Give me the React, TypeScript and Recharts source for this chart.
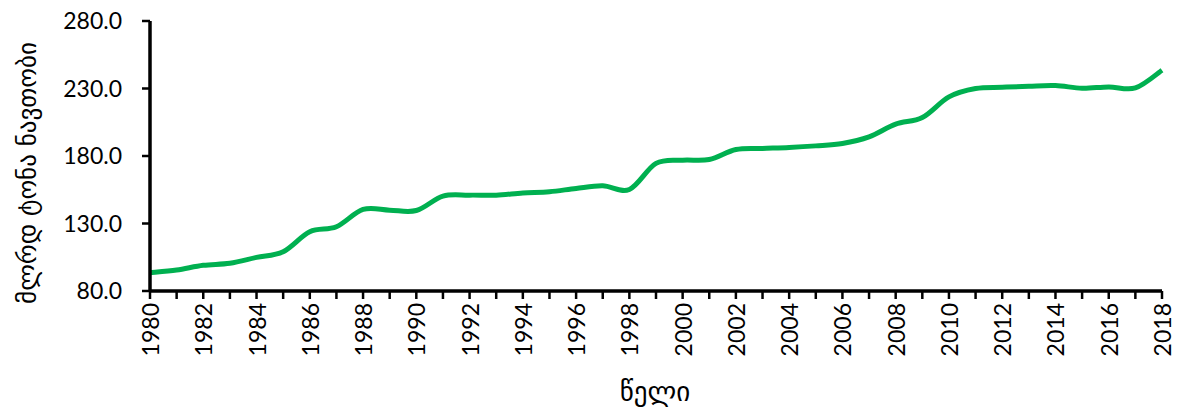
import React from 'react';
import { LineChart, Line, XAxis, YAxis } from 'recharts';

const years = [
  1980, 1981, 1982, 1983, 1984, 1985, 1986, 1987, 1988, 1989,
  1990, 1991, 1992, 1993, 1994, 1995, 1996, 1997, 1998, 1999,
  2000, 2001, 2002, 2003, 2004, 2005, 2006, 2007, 2008, 2009,
  2010, 2011, 2012, 2013, 2014, 2015, 2016, 2017, 2018,
];
const reserves = [
  93.5, 95.5, 99.0, 100.5, 104.9, 109.1, 123.9, 127.6, 140.4, 139.9,
  139.6, 150.3, 151.0, 151.0, 152.6, 153.5, 156.0, 157.9, 155.2, 174.5,
  176.9, 177.4, 184.8, 185.6, 186.3, 187.5, 189.3, 194.2, 203.6, 208.5,
  223.8, 230.0, 230.9, 231.7, 232.2, 230.2, 231.2, 230.4, 243.5,
];
const yTicks = [80, 130, 180, 230, 280];
const yLabel = 'მლრდ ტონა ნავთობი';
const xLabel = 'წელი';

const data = years.map((y, i) => ({ year: y, value: reserves[i] }));

// Excel-like smoothed line (Catmull-Rom style Bezier)
const excelCurve: any = (context: any) => {
  let pts: number[][] = [];
  return {
    areaStart() {},
    areaEnd() {},
    lineStart() {
      pts = [];
    },
    lineEnd() {
      if (!pts.length) return;
      context.moveTo(pts[0][0], pts[0][1]);
      for (let i = 0; i < pts.length - 1; i++) {
        const p0 = pts[i - 1] || pts[i];
        const p1 = pts[i];
        const p2 = pts[i + 1];
        const p3 = pts[i + 2] || p2;
        context.bezierCurveTo(
          p1[0] + (p2[0] - p0[0]) / 6,
          p1[1] + (p2[1] - p0[1]) / 6,
          p2[0] - (p3[0] - p1[0]) / 6,
          p2[1] - (p3[1] - p1[1]) / 6,
          p2[0],
          p2[1]
        );
      }
    },
    point(x: number, y: number) {
      pts.push([+x, +y]);
    },
  };
};

const FONT = 'Lato, "DejaVu Sans", sans-serif';
const GEO = '"DejaVu Sans", "Noto Sans", sans-serif';

const XTick = (props: any) => {
  const { x, y, payload } = props;
  const v = payload.value;
  if (v % 2 !== 0) return null;
  return (
    <text
      x={x}
      y={y}
      transform={`rotate(-90 ${x} ${y})`}
      textAnchor="end"
      dominantBaseline="central"
      fontSize={23}
      fontFamily={FONT}
      fill="#000"
    >
      {String(v)}
    </text>
  );
};

export default function App() {
  return (
    <div style={{ position: 'absolute', left: 0, top: 0, width: 1182, height: 412, background: '#fff' }}>
      <LineChart
        width={1182}
        height={412}
        data={data}
        margin={{ top: 21, right: 20, bottom: 0, left: 0 }}
      >
        <XAxis
          type="number"
          dataKey="year"
          domain={[1980, 2018]}
          ticks={years}
          interval={0}
          height={121}
          axisLine={{ stroke: '#000', strokeWidth: 3.5 }}
          tickLine={{ stroke: '#000', strokeWidth: 2.5 }}
          tickSize={8}
          tickMargin={4}
          tick={<XTick />}
          label={{
            content: () => (
              <text x={655} y={391} textAnchor="middle" dominantBaseline="central" fontSize={27} fontFamily={GEO} fill="#000">
                {xLabel}
              </text>
            ),
          }}
        />
        <YAxis
          type="number"
          domain={[80, 280]}
          ticks={yTicks}
          interval={0}
          width={150}
          axisLine={{ stroke: '#000', strokeWidth: 3.5 }}
          tickLine={{ stroke: '#000', strokeWidth: 2.5 }}
          tickSize={8}
          tickMargin={20}
          tickFormatter={(v: number) => v.toFixed(1)}
          tick={{ fontSize: 23, fontFamily: FONT, fill: '#000' }}
          label={{
            content: () => (
              <text
                x={27}
                y={173}
                transform="rotate(-90 27 173)"
                textAnchor="middle"
                dominantBaseline="central"
                fontSize={25}
                fontFamily={GEO}
                fill="#000"
              >
                {yLabel}
              </text>
            ),
          }}
        />
        <Line
          type={excelCurve}
          dataKey="value"
          stroke="#00B050"
          strokeWidth={5}
          dot={false}
          isAnimationActive={false}
        />
      </LineChart>
    </div>
  );
}
